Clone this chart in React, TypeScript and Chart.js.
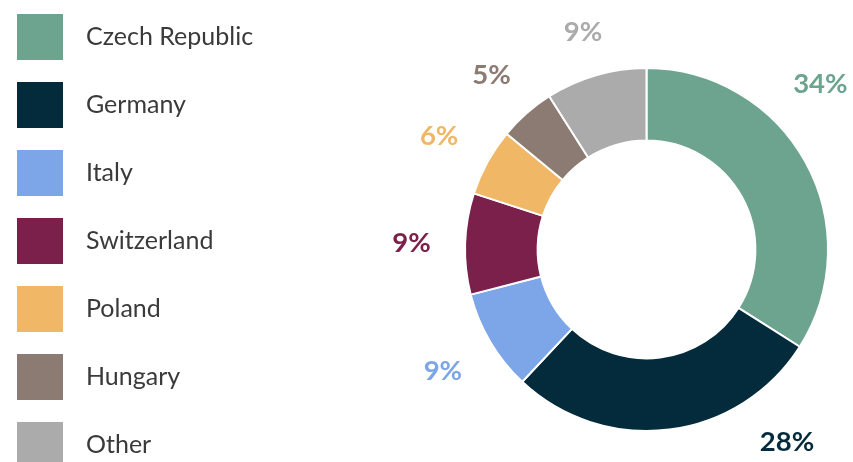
import React, { useEffect, useRef } from "react";
import { Chart, registerables } from "chart.js";

Chart.register(...registerables);

const categories = ["Czech Republic", "Germany", "Italy", "Switzerland", "Poland", "Hungary", "Other"];
const shares = [34, 28, 9, 9, 6, 5, 9];
const colors = ["#6DA490", "#032B3B", "#7CA6E8", "#7B1F4B", "#F0B767", "#8C7B72", "#ABABAB"];

const W = 853;
const H = 462;

const labelPlugin = {
  id: "outsideLabels",
  afterDatasetsDraw(chart: any) {
    const ctx = chart.ctx;
    const meta = chart.getDatasetMeta(0);
    const fontSize = 27.5;
    ctx.save();
    ctx.font = `bold ${fontSize}px Lato, sans-serif`;
    ctx.textAlign = "center";
    ctx.textBaseline = "alphabetic";
    const digitH = fontSize * 0.72;
    meta.data.forEach((arc: any, i: number) => {
      const p = arc.getProps(["x", "y", "startAngle", "endAngle", "outerRadius"], true);
      const text = `${shares[i]}%`;
      const hw = ctx.measureText(text).width / 2;
      const hh = digitH / 2;
      let a = (p.startAngle + p.endAngle) / 2;
      let cx = 0, cy = 0;
      for (let k = 0; k < 200; k++) {
        const s = Math.cos(a), c = Math.sin(a);
        const dist = p.outerRadius + 30 + Math.abs(s) * (hw + 4) + Math.abs(c) * hh;
        cx = p.x + dist * Math.cos(a);
        cy = p.y + dist * Math.sin(a);
        if (cx + hw <= chart.width - 4 && cy + hh <= chart.height - 10 && cx - hw >= 0 && cy - hh >= 0) break;
        a -= Math.PI / 360;
      }
      ctx.fillStyle = colors[i];
      ctx.fillText(text, cx, cy + hh);
    });
    ctx.restore();
  },
};

export default function App() {
  const ref = useRef<HTMLCanvasElement | null>(null);
  useEffect(() => {
    if (!ref.current) return;
    const chart = new Chart(ref.current, {
      type: "doughnut",
      data: {
        labels: categories,
        datasets: [
          {
            data: shares,
            backgroundColor: colors,
            borderColor: "#ffffff",
            borderWidth: 2,
          },
        ],
      },
      options: {
        responsive: false,
        animation: false,
        cutout: "60%",
        layout: { padding: { left: 464, right: 24, top: 67, bottom: 30 } },
        plugins: {
          legend: { display: false },
          tooltip: { enabled: false },
        },
      },
      plugins: [labelPlugin],
    });
    return () => chart.destroy();
  }, []);

  return (
    <div style={{ position: "fixed", left: 0, top: 0, width: W, height: H, background: "#fff" }}>
      <canvas ref={ref} width={W} height={H} style={{ position: "absolute", left: 0, top: 0 }} />
      {categories.map((c, i) => (
        <div
          key={c}
          style={{
            position: "absolute",
            left: 17,
            top: 14 + i * 68,
            height: 46,
            display: "flex",
            alignItems: "center",
            fontFamily: "Lato, sans-serif",
            fontSize: 25,
            color: "#3A3A3A",
            whiteSpace: "nowrap",
          }}
        >
          <span style={{ display: "inline-block", width: 46, height: 46, background: colors[i], marginRight: 23 }} />
          <span style={{ position: "relative", top: -2 }}>{c}</span>
        </div>
      ))}
    </div>
  );
}
